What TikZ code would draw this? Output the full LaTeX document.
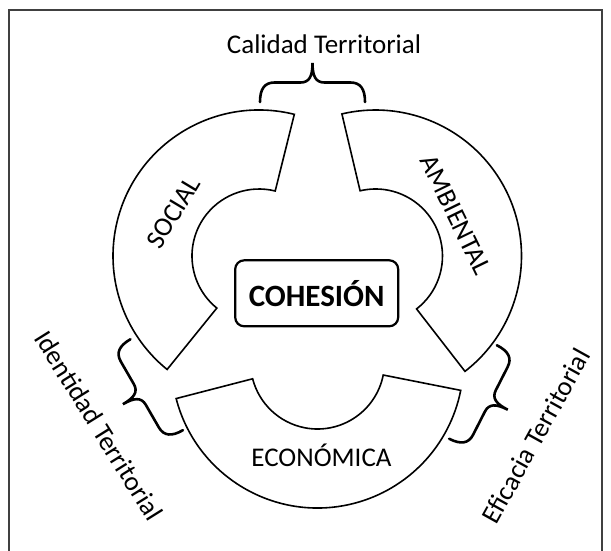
\documentclass[tikz,border=0pt]{standalone}
\usepackage{fontspec}
\setmainfont{Carlito}
\usetikzlibrary{calc}
\begin{document}
\begin{tikzpicture}[x=1pt,y=1pt,
  sectorline/.style={draw=black,line width=1.6pt,line join=miter},
  lbl/.style={inner sep=0pt,font=\fontsize{27}{32}\selectfont},
  cohbox/.style={draw=black,line width=2.2pt,rounded corners=9pt,minimum width=163pt,minimum height=66pt,inner sep=0pt,font=\fontsize{31}{36}\selectfont\bfseries},
  bracestyle/.style={draw=black,line width=2.6pt,line cap=round},
  bracepic/.pic={\draw[bracestyle] (-52.5,0) .. controls (-52.5,13) and (-48,19.5) .. (-38,19.5) -- (-12,19.5) .. controls (-3,19.5) and (0,26) .. (0,39) .. controls (0,26) and (3,19.5) .. (12,19.5) -- (38,19.5) .. controls (48,19.5) and (52.5,13) .. (52.5,0);}
]
\useasboundingbox (0,0) rectangle (611,-550);
% frame
\draw[draw=black!75,line width=1.4pt] (9,-552) -- (9,-10) -- (602,-10) -- (602,-552);
% sector centres
\coordinate (S) at (259,-256);
\coordinate (A) at (375.5,-256);
\coordinate (E) at (317.5,-362);
% SOCIAL
\draw[sectorline] ($(S)+(76:146)$) arc[start angle=76,end angle=231,radius=146]
  -- ($(S)+(231:67)$) arc[start angle=231,end angle=76,radius=67] -- cycle;
% AMBIENTAL
\draw[sectorline] ($(A)+(-52.2:146)$) arc[start angle=-52.2,end angle=103.3,radius=146]
  -- ($(A)+(103.3:67)$) arc[start angle=103.3,end angle=-52.2,radius=67] -- cycle;
% ECONOMICA
\draw[sectorline] ($(E)+(194.5:146)$) arc[start angle=194.5,end angle=348.8,radius=146]
  -- ($(E)+(348.8:67)$) arc[start angle=348.8,end angle=194.5,radius=67] -- cycle;
% centre box
\node[cohbox] (coh) at (316.7,-293.3) {COHESIÓN};
% labels
\node[lbl,rotate=59] (social) at (173.3,-212.5) {SOCIAL};
\node[lbl,rotate=-64] (amb) at (455.8,-215) {AMBIENTAL};
\node[lbl,anchor=base] (eco) at (321.5,-466.7) {ECONÓMICA};
\node[lbl,anchor=base] (cal) at (324,-53) {Calidad Territorial};
\node[lbl,rotate=-58] (ide) at (99,-425.5) {Identidad Territorial};
\node[lbl,rotate=61] (efi) at (535.8,-435.8) {Eficacia Territorial};
% braces
\pic at (312.5,-102) {bracepic};
\pic[rotate=120] at (156.7,-384.7) {bracepic};
\pic[rotate=-117] at (473,-392) {bracepic};
\end{tikzpicture}
\end{document}
